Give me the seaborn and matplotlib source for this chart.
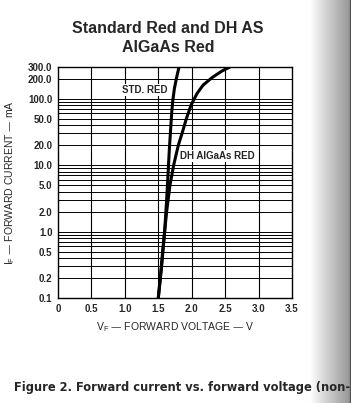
import numpy as np
import pandas as pd
import matplotlib
matplotlib.use('Agg')
import matplotlib.pyplot as plt
import matplotlib.font_manager as fm
import seaborn as sns
from matplotlib.ticker import FixedLocator, NullFormatter

# curve data (V, mA)
std_v = [1.50, 1.55, 1.595, 1.625, 1.645, 1.665, 1.685, 1.70, 1.715, 1.74, 1.77, 1.81]
std_i = [0.1, 0.3, 1.0, 3.0, 7.0, 17.0, 35.0, 60.0, 90.0, 140.0, 200.0, 300.0]
dh_v = [1.50, 1.53, 1.565, 1.595, 1.625, 1.675, 1.73, 1.80, 1.855, 1.92, 1.99, 2.08, 2.17, 2.31, 2.45, 2.57]
dh_i = [0.1, 0.2, 0.5, 1.0, 2.0, 5.0, 10.0, 20.0, 30.0, 50.0, 80.0, 120.0, 160.0, 210.0, 260.0, 300.0]

x_ticks = [0, 0.5, 1.0, 1.5, 2.0, 2.5, 3.0, 3.5]
x_labels = ['0', '0.5', '1.0', '1.5', '2.0', '2.5', '3.0', '3.5']
y_ticks = [0.1, 0.2, 0.5, 1.0, 2.0, 5.0, 10.0, 20.0, 50.0, 100.0, 200.0, 300.0]
y_labels = ['0.1', '0.2', '0.5', '1.0', '2.0', '5.0', '10.0', '20.0', '50.0', '100.0', '200.0', '300.0']

df = pd.concat([
    pd.DataFrame({'V': std_v, 'I': std_i, 'curve': 'STD. RED'}),
    pd.DataFrame({'V': dh_v, 'I': dh_i, 'curve': 'DH AlGaAs RED'}),
])

sns.set_style('white')
plt.rcParams['font.family'] = ['Liberation Sans', 'DejaVu Sans']
plt.rcParams['mathtext.default'] = 'regular'

fig = plt.figure(figsize=(3.51, 4.03), dpi=100)
ax = fig.add_axes([58 / 351, 1 - 298 / 403, 234 / 351, 231 / 403])

sns.lineplot(data=df, x='V', y='I', units='curve', estimator=None, sort=False,
             color='black', lw=2.2, ax=ax, legend=False)

ax.set_yscale('log')
ax.set_xlim(0, 3.5)
ax.set_ylim(0.1, 300)

# graph-paper grid
for v in np.arange(0.5, 3.5, 0.5):
    ax.axvline(v, color='black', lw=0.8, zorder=1)
for dec in [0.1, 1, 10, 100]:
    for m in range(1, 10):
        val = dec * m
        if 0.1 < val < 300:
            ax.axhline(val, color='black', lw=0.7, zorder=1)

ax.yaxis.set_major_locator(FixedLocator(y_ticks))
ax.set_yticklabels(y_labels)
ax.yaxis.set_minor_formatter(NullFormatter())
ax.yaxis.set_minor_locator(FixedLocator([]))
ax.set_xticks(x_ticks)
ax.set_xticklabels(x_labels)
ax.tick_params(length=0, labelsize=7)
ax.tick_params(axis='y', pad=4)
ax.tick_params(axis='x', pad=4)
for lab in ax.get_xticklabels() + ax.get_yticklabels():
    lab.set_fontweight('bold')

for s in ax.spines.values():
    s.set_color('black')
    s.set_linewidth(1.0)

ax.set_xlabel('V$_F$ — FORWARD VOLTAGE — V', fontsize=7.5, labelpad=5)
ax.set_ylabel('I$_F$ — FORWARD CURRENT — mA', fontsize=7.5, labelpad=8)

ax.text(1.64, 135, 'STD. RED', ha='right', va='center', fontsize=7, fontweight='bold',
        bbox=dict(facecolor='white', edgecolor='none', pad=0.5), zorder=3)
ax.text(1.82, 13.8, 'DH AlGaAs RED', ha='left', va='center', fontsize=7, fontweight='bold',
        bbox=dict(facecolor='white', edgecolor='none', pad=0.5), zorder=3)

fig.text(168 / 351, 1 - 38 / 403, 'Standard Red and DH AS\nAlGaAs Red', ha='center', va='center',
         fontsize=11.5, fontweight='bold', linespacing=1.3)

# page shadow on the right edge
shade = fig.add_axes([310 / 351, 0, 40 / 351, 1], zorder=-1)
grad = np.linspace(1.0, 0.72, 100) ** 1.6
shade.imshow(np.tile(grad, (10, 1)), cmap='gray', vmin=0, vmax=1, aspect='auto')
shade.axis('off')
fig.add_artist(plt.Line2D([349.5 / 351, 349.5 / 351], [0, 1], color='#555555', lw=1))

# caption: condensed bold face if one is installed, else shrink to fit
narrow = [f for f in fm.fontManager.ttflist
          if ('Narrow' in f.name or 'Condensed' in f.name or 'Condensed' in f.fname
              or f.stretch in ('condensed', 'semi-condensed'))
          and f.weight in ('bold', 700, 'heavy') and f.style == 'normal']
cap_kw = dict(ha='left', va='center', fontsize=10.5, fontweight='bold')
if narrow:
    cap_kw['fontproperties'] = fm.FontProperties(fname=narrow[0].fname, size=11)
    cap_kw.pop('fontsize')
    cap_kw.pop('fontweight')
cap = fig.text(14 / 351, 1 - 387 / 403, 'Figure 2. Forward current vs. forward voltage (non-', **cap_kw)
r = fig.canvas.get_renderer()
w = cap.get_window_extent(r).width
if w > 335:
    cap.set_fontsize(cap.get_fontsize() * 335 / w)

fig.savefig('out.png', dpi=100)
